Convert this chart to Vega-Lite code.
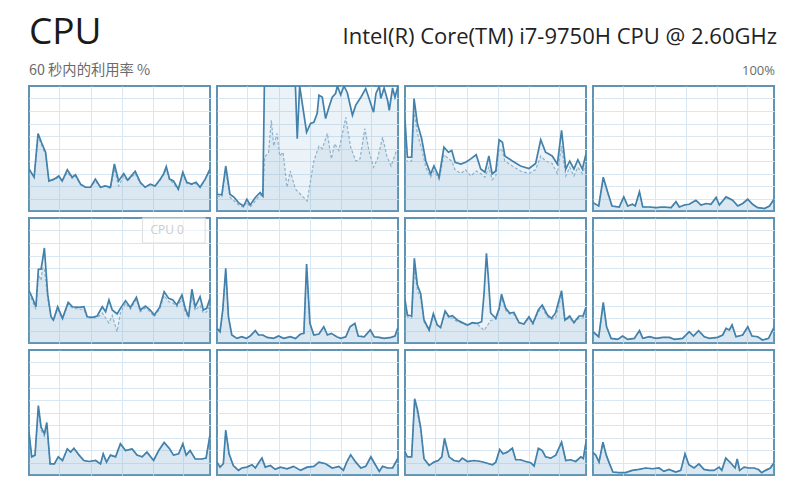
{
  "$schema": "https://vega.github.io/schema/vega-lite/v6.json",
  "background": "white",
  "padding": {"left": 28, "top": 0, "right": 0, "bottom": 0},
  "bounds": "flush",
  "spacing": 7,
  "config": {
    "view": {"stroke": "#6094b3", "strokeWidth": 2},
    "font": "Open Sans",
    "header": {"labels": false, "title": null, "labelExpr": "''", "labelColor": "transparent"},
    "axis": {"grid": true, "gridColor": "#d8e7f1", "gridWidth": 1, "labels": false, "ticks": false, "domain": false, "title": null, "minExtent": 0}
  },
  "datasets": {
    "head": [
      {"id": "cpu", "side": "left", "row": "top", "label": "CPU"},
      {"id": "model", "side": "right", "row": "top", "label": "Intel(R) Core(TM) i7-9750H CPU @ 2.60GHz"},
      {"id": "sub", "side": "left", "row": "bottom", "label": "60 秒内的利用率 %"},
      {"id": "max", "side": "right", "row": "bottom", "label": "100%"}
    ],
    "cpu": [
      {"c":0,"t":0,"u":33.6,"k":33.6},{"c":0,"t":1.7,"u":27,"k":27},{"c":0,"t":3,"u":62,"k":60},{"c":0,"t":4.1,"u":55,"k":53},{"c":0,"t":5.5,"u":47,"k":45},{"c":0,"t":6.6,"u":24,"k":24},{"c":0,"t":8.3,"u":25.5,"k":25},{"c":0,"t":9.9,"u":28,"k":27},{"c":0,"t":11,"u":24,"k":24},{"c":0,"t":12.7,"u":33,"k":31},{"c":0,"t":14.3,"u":27,"k":26},{"c":0,"t":15.4,"u":29,"k":28},{"c":0,"t":17.1,"u":21.5,"k":21},{"c":0,"t":18.7,"u":19,"k":19},{"c":0,"t":20.4,"u":19,"k":19},{"c":0,"t":22,"u":25.5,"k":24},{"c":0,"t":23.7,"u":19,"k":19},{"c":0,"t":25.3,"u":20,"k":20},{"c":0,"t":27,"u":19,"k":18},{"c":0,"t":28.3,"u":37.6,"k":34},{"c":0,"t":29.7,"u":24,"k":20},{"c":0,"t":31.4,"u":30,"k":28},{"c":0,"t":32.7,"u":24.7,"k":24},{"c":0,"t":35.2,"u":31.7,"k":30},{"c":0,"t":36.9,"u":23,"k":22},{"c":0,"t":38.5,"u":19,"k":19},{"c":0,"t":40.2,"u":21.5,"k":21},{"c":0,"t":41.8,"u":20,"k":20},{"c":0,"t":43.3,"u":24.7,"k":24},{"c":0,"t":44.6,"u":29.6,"k":29},{"c":0,"t":45.5,"u":35.5,"k":33},{"c":0,"t":46.6,"u":25.5,"k":25},{"c":0,"t":47.9,"u":24,"k":22},{"c":0,"t":49.5,"u":17.5,"k":17},{"c":0,"t":51,"u":31,"k":29},{"c":0,"t":52.3,"u":23,"k":22},{"c":0,"t":53.9,"u":21.5,"k":21},{"c":0,"t":55.4,"u":23,"k":22},{"c":0,"t":56.7,"u":19,"k":19},{"c":0,"t":58.4,"u":25.5,"k":25},{"c":0,"t":60,"u":33.6,"k":33},

      {"c":1,"t":0,"u":13.4,"k":12},{"c":1,"t":1.6,"u":13,"k":11},{"c":1,"t":2.9,"u":36,"k":33},{"c":1,"t":4.3,"u":13.4,"k":11},{"c":1,"t":5.7,"u":11,"k":8},{"c":1,"t":7.1,"u":6.7,"k":5},{"c":1,"t":8.8,"u":4,"k":3},{"c":1,"t":9.9,"u":9.4,"k":7},{"c":1,"t":11,"u":4.8,"k":3},{"c":1,"t":12.7,"u":10.8,"k":8},{"c":1,"t":14.3,"u":14.8,"k":13},{"c":1,"t":15.2,"u":12,"k":11},
      {"c":1,"t":15.7,"u":100},{"c":1,"t":25.4,"u":100},{"c":1,"t":26,"u":100},{"c":1,"t":26.6,"u":57.8},{"c":1,"t":27.4,"u":100},{"c":1,"t":29.7,"u":63},{"c":1,"t":31,"u":70},{"c":1,"t":32.1,"u":71},{"c":1,"t":33.2,"u":78},{"c":1,"t":33.8,"u":92.7},{"c":1,"t":34.9,"u":91},{"c":1,"t":36,"u":74},{"c":1,"t":37.1,"u":83},{"c":1,"t":38.2,"u":91},{"c":1,"t":39.3,"u":94},{"c":1,"t":39.9,"u":100},{"c":1,"t":41,"u":93},{"c":1,"t":42.1,"u":100},{"c":1,"t":43.2,"u":94.6},{"c":1,"t":44.9,"u":76.6},{"c":1,"t":46,"u":84.7},{"c":1,"t":47.7,"u":91},{"c":1,"t":49.3,"u":98},{"c":1,"t":50.4,"u":90},{"c":1,"t":51.9,"u":79},{"c":1,"t":52.7,"u":94},{"c":1,"t":53.8,"u":100},{"c":1,"t":54.3,"u":90},{"c":1,"t":55.4,"u":98.4},{"c":1,"t":56.6,"u":88},{"c":1,"t":57.1,"u":80.6},{"c":1,"t":58.2,"u":98.4},{"c":1,"t":59,"u":91},{"c":1,"t":60,"u":100},
      {"c":1,"t":15.8,"k":43},{"c":1,"t":17.1,"k":47},{"c":1,"t":18,"k":72.6},{"c":1,"t":18.8,"k":52},{"c":1,"t":19.9,"k":62},{"c":1,"t":20.8,"k":44},{"c":1,"t":21.9,"k":47},{"c":1,"t":23.2,"k":19},{"c":1,"t":24.3,"k":32},{"c":1,"t":26,"k":17.5},{"c":1,"t":27.7,"k":13.4},{"c":1,"t":29.9,"k":8},{"c":1,"t":32.1,"k":40},{"c":1,"t":33.8,"k":52},{"c":1,"t":34.9,"k":50},{"c":1,"t":36.6,"k":62},{"c":1,"t":37.9,"k":41.7},{"c":1,"t":39,"k":53.8},{"c":1,"t":40.4,"k":48.4},{"c":1,"t":42.7,"k":75},{"c":1,"t":44.3,"k":51},{"c":1,"t":46,"k":40},{"c":1,"t":47.4,"k":41.7},{"c":1,"t":49,"k":66},{"c":1,"t":50.4,"k":48},{"c":1,"t":51.9,"k":35},{"c":1,"t":53.2,"k":41.7},{"c":1,"t":54.9,"k":59},{"c":1,"t":56.3,"k":44},{"c":1,"t":57.7,"k":36},{"c":1,"t":59.3,"k":47},{"c":1,"t":60,"k":45},

      {"c":2,"t":0,"u":72.6,"k":40},{"c":2,"t":0.8,"u":43,"k":40},{"c":2,"t":2.2,"u":43,"k":40},{"c":2,"t":3,"u":90,"k":80},{"c":2,"t":4.1,"u":70,"k":62},{"c":2,"t":5.5,"u":58,"k":50},{"c":2,"t":6.9,"u":40,"k":35},{"c":2,"t":8.5,"u":29.6,"k":27},{"c":2,"t":9.6,"u":36,"k":32},{"c":2,"t":11.3,"u":27,"k":25},{"c":2,"t":12.9,"u":51,"k":45},{"c":2,"t":14.4,"u":47,"k":42},{"c":2,"t":15.5,"u":48.4,"k":40},{"c":2,"t":16.6,"u":39,"k":33},{"c":2,"t":18.5,"u":37.6,"k":30},{"c":2,"t":20.1,"u":39,"k":33},{"c":2,"t":21.8,"u":41.7,"k":28},{"c":2,"t":23.6,"u":45,"k":32},{"c":2,"t":25.1,"u":33.6,"k":30},{"c":2,"t":26.5,"u":31,"k":27},{"c":2,"t":27.8,"u":44,"k":35},{"c":2,"t":28.9,"u":29.6,"k":25},{"c":2,"t":30.1,"u":32,"k":28},{"c":2,"t":31.2,"u":57,"k":50},{"c":2,"t":32.3,"u":55,"k":48},{"c":2,"t":33.1,"u":44,"k":40},{"c":2,"t":35.6,"u":40,"k":36},{"c":2,"t":38.3,"u":36,"k":32},{"c":2,"t":41.1,"u":34,"k":30},{"c":2,"t":43.3,"u":38,"k":33},{"c":2,"t":45,"u":57,"k":44},{"c":2,"t":46.6,"u":47,"k":40},{"c":2,"t":48.8,"u":44,"k":38},{"c":2,"t":50.5,"u":37.6,"k":30},{"c":2,"t":51.9,"u":64.5,"k":52},{"c":2,"t":53.3,"u":33.6,"k":28},{"c":2,"t":54.6,"u":40,"k":35},{"c":2,"t":56,"u":33.6,"k":28},{"c":2,"t":57.3,"u":41,"k":35},{"c":2,"t":58.8,"u":33.6,"k":30},{"c":2,"t":60,"u":45.7,"k":38},

      {"c":3,"t":0,"u":6.7,"k":6.7},{"c":3,"t":1.9,"u":4,"k":4},{"c":3,"t":3.4,"u":27,"k":26},{"c":3,"t":4.9,"u":14.8,"k":14},{"c":3,"t":6.3,"u":4,"k":4},{"c":3,"t":8.7,"u":3.2,"k":3.2},{"c":3,"t":10.2,"u":11.3,"k":11},{"c":3,"t":11.5,"u":4,"k":4},{"c":3,"t":13.1,"u":5.4,"k":5.4},{"c":3,"t":14,"u":4,"k":4},{"c":3,"t":15.4,"u":15.3,"k":15},{"c":3,"t":16.5,"u":3.2,"k":3.2},{"c":3,"t":18.7,"u":3.2,"k":3.2},{"c":3,"t":20.9,"u":2.7,"k":2.7},{"c":3,"t":23.1,"u":3.2,"k":3.2},{"c":3,"t":25.9,"u":2.7,"k":2.7},{"c":3,"t":27.5,"u":7.5,"k":7.5},{"c":3,"t":28.6,"u":3.2,"k":3.2},{"c":3,"t":30.3,"u":4.8,"k":4.8},{"c":3,"t":31.9,"u":5.4,"k":5.4},{"c":3,"t":34.1,"u":8.6,"k":8.6},{"c":3,"t":35.8,"u":4.8,"k":4.8},{"c":3,"t":37.5,"u":6,"k":6},{"c":3,"t":39.1,"u":5.4,"k":5.4},{"c":3,"t":40.8,"u":10.8,"k":10.8},{"c":3,"t":41.9,"u":4.8,"k":4.8},{"c":3,"t":44.1,"u":11.3,"k":11.3},{"c":3,"t":46.3,"u":8.6,"k":8.6},{"c":3,"t":48,"u":4,"k":4},{"c":3,"t":49.6,"u":6,"k":6},{"c":3,"t":51.3,"u":9.4,"k":9.4},{"c":3,"t":52.9,"u":5.4,"k":5.4},{"c":3,"t":54.6,"u":2.7,"k":2.7},{"c":3,"t":56.8,"u":2,"k":2},{"c":3,"t":58.5,"u":4,"k":4},{"c":3,"t":60,"u":9.4,"k":9.4},

      {"c":4,"t":0,"u":42,"k":40},{"c":4,"t":1.2,"u":35.7,"k":33},{"c":4,"t":2.3,"u":29,"k":27},{"c":4,"t":3.1,"u":59,"k":55},{"c":4,"t":4,"u":59,"k":50},{"c":4,"t":4.5,"u":66.4,"k":60},{"c":4,"t":5.1,"u":76,"k":60},{"c":4,"t":6.2,"u":39,"k":36},{"c":4,"t":7.3,"u":21,"k":20},{"c":4,"t":8.1,"u":18.4,"k":18},{"c":4,"t":9.5,"u":29,"k":27},{"c":4,"t":11.1,"u":19.7,"k":19},{"c":4,"t":13,"u":32.5,"k":31},{"c":4,"t":14.4,"u":29,"k":28},{"c":4,"t":16.6,"u":28.5,"k":27},{"c":4,"t":18.2,"u":29,"k":27},{"c":4,"t":19.3,"u":21,"k":20},{"c":4,"t":21,"u":20.5,"k":20},{"c":4,"t":22.6,"u":21.6,"k":20},{"c":4,"t":24.3,"u":29,"k":24},{"c":4,"t":25.4,"u":25,"k":20},{"c":4,"t":26.5,"u":34.4,"k":16},{"c":4,"t":27.6,"u":26.4,"k":22},{"c":4,"t":29.2,"u":23.2,"k":9},{"c":4,"t":30.3,"u":27.7,"k":24},{"c":4,"t":32,"u":33.9,"k":32},{"c":4,"t":33.6,"u":28.5,"k":27},{"c":4,"t":35.6,"u":36.5,"k":35},{"c":4,"t":36.9,"u":26.4,"k":25},{"c":4,"t":38.6,"u":29.6,"k":28},{"c":4,"t":40.2,"u":26.4,"k":25},{"c":4,"t":41.5,"u":22.4,"k":21},{"c":4,"t":43.3,"u":28.5,"k":27},{"c":4,"t":44.8,"u":41,"k":38},{"c":4,"t":46.3,"u":35.7,"k":33},{"c":4,"t":47.7,"u":34.4,"k":32},{"c":4,"t":49,"u":30.4,"k":29},{"c":4,"t":50.7,"u":38.4,"k":35},{"c":4,"t":51.8,"u":27.7,"k":25},{"c":4,"t":52.9,"u":21,"k":20},{"c":4,"t":54,"u":43,"k":38},{"c":4,"t":55.1,"u":29,"k":26},{"c":4,"t":56.7,"u":37,"k":30},{"c":4,"t":57.8,"u":26.4,"k":24},{"c":4,"t":58.9,"u":27.7,"k":25},{"c":4,"t":60,"u":35.7,"k":30},
      {"c":4,"tip":"CPU 0","t":37.6,"v":80,"t1":58.4,"v1":100},

      {"c":5,"t":0,"u":11.7,"k":11.7},{"c":5,"t":1,"u":9,"k":9},{"c":5,"t":1.9,"u":26.4,"k":25},{"c":5,"t":2.9,"u":59.7,"k":57},{"c":5,"t":3.8,"u":21,"k":20},{"c":5,"t":4.9,"u":6.4,"k":6.4},{"c":5,"t":6.6,"u":3.7,"k":3.7},{"c":5,"t":8.2,"u":5,"k":5},{"c":5,"t":9.7,"u":3.7,"k":3.7},{"c":5,"t":11,"u":5.6,"k":5.6},{"c":5,"t":12.7,"u":9.9,"k":9.9},{"c":5,"t":13.8,"u":6.4,"k":6.4},{"c":5,"t":15.2,"u":6.4,"k":6.4},{"c":5,"t":16.6,"u":4.5,"k":4.5},{"c":5,"t":18.8,"u":3.7,"k":3.7},{"c":5,"t":20.4,"u":5.6,"k":5.6},{"c":5,"t":22.1,"u":3.7,"k":3.7},{"c":5,"t":24.3,"u":5,"k":5},{"c":5,"t":26,"u":3.5,"k":3.5},{"c":5,"t":27.7,"u":7.2,"k":7.2},{"c":5,"t":28.8,"u":7.7,"k":7.7},{"c":5,"t":29.7,"u":63.2,"k":60},{"c":5,"t":30.8,"u":15.7,"k":15},{"c":5,"t":32.1,"u":6.4,"k":6.4},{"c":5,"t":33.8,"u":7.2,"k":7.2},{"c":5,"t":35.4,"u":13,"k":13},{"c":5,"t":36.6,"u":6.4,"k":6.4},{"c":5,"t":37.9,"u":7.7,"k":7.7},{"c":5,"t":39.7,"u":5,"k":5},{"c":5,"t":41,"u":3.7,"k":3.7},{"c":5,"t":42.7,"u":5,"k":5},{"c":5,"t":44.1,"u":13,"k":13},{"c":5,"t":45.7,"u":15.7,"k":15.7},{"c":5,"t":46.8,"u":5.6,"k":5.6},{"c":5,"t":48.8,"u":5,"k":5},{"c":5,"t":50.8,"u":10.4,"k":10.4},{"c":5,"t":52.1,"u":5,"k":5},{"c":5,"t":53.8,"u":4.5,"k":4.5},{"c":5,"t":55.4,"u":3.7,"k":3.7},{"c":5,"t":57.7,"u":4.5,"k":4.5},{"c":5,"t":59,"u":5.6,"k":5.6},{"c":5,"t":60,"u":12.5,"k":12.5},

      {"c":6,"t":0,"u":34.4,"k":30},{"c":6,"t":0.8,"u":22.4,"k":21},{"c":6,"t":2.2,"u":21.6,"k":20},{"c":6,"t":3.1,"u":67.7,"k":60},{"c":6,"t":4.1,"u":46.4,"k":42},{"c":6,"t":5.2,"u":39.5,"k":36},{"c":6,"t":6.3,"u":18.4,"k":17},{"c":6,"t":8,"u":10.4,"k":10},{"c":6,"t":9.4,"u":23.5,"k":22},{"c":6,"t":10.7,"u":14.4,"k":14},{"c":6,"t":11.8,"u":12.5,"k":12},{"c":6,"t":13.3,"u":25.6,"k":24},{"c":6,"t":14.6,"u":21,"k":20},{"c":6,"t":15.7,"u":21.9,"k":20},{"c":6,"t":17.3,"u":18.4,"k":17},{"c":6,"t":19,"u":16.3,"k":16},{"c":6,"t":20.7,"u":14.4,"k":14},{"c":6,"t":22.3,"u":16.3,"k":16},{"c":6,"t":24,"u":15.7,"k":15},{"c":6,"t":25.4,"u":17,"k":12},{"c":6,"t":26.2,"u":39.5,"k":10},{"c":6,"t":27,"u":71.7,"k":13},{"c":6,"t":27.6,"u":53,"k":15},{"c":6,"t":28.4,"u":24,"k":18},{"c":6,"t":30.1,"u":19.7,"k":19},{"c":6,"t":31.2,"u":27.7,"k":26},{"c":6,"t":32,"u":39,"k":36},{"c":6,"t":33.4,"u":27.7,"k":26},{"c":6,"t":34.7,"u":24,"k":23},{"c":6,"t":36.1,"u":24.5,"k":23},{"c":6,"t":37.8,"u":16.3,"k":16},{"c":6,"t":39.4,"u":15.2,"k":15},{"c":6,"t":41.1,"u":21,"k":20},{"c":6,"t":42.4,"u":15.7,"k":15},{"c":6,"t":44.2,"u":26.4,"k":25},{"c":6,"t":45.5,"u":30.4,"k":28},{"c":6,"t":47.2,"u":22.4,"k":21},{"c":6,"t":48.6,"u":19.7,"k":19},{"c":6,"t":49.9,"u":24,"k":20},{"c":6,"t":51.9,"u":41.9,"k":38},{"c":6,"t":53,"u":18.4,"k":18},{"c":6,"t":54.6,"u":21.6,"k":20},{"c":6,"t":56,"u":16.3,"k":16},{"c":6,"t":57.7,"u":21.6,"k":20},{"c":6,"t":59,"u":21.6,"k":20},{"c":6,"t":60,"u":28.5,"k":27},

      {"c":7,"t":0,"u":9,"k":9},{"c":7,"t":1.9,"u":5,"k":5},{"c":7,"t":3.4,"u":32.5,"k":31},{"c":7,"t":4.5,"u":13,"k":13},{"c":7,"t":6,"u":3.7,"k":3.7},{"c":7,"t":8.2,"u":2.9,"k":2.9},{"c":7,"t":9.8,"u":5.6,"k":5.6},{"c":7,"t":11.5,"u":2.9,"k":2.9},{"c":7,"t":13.7,"u":3.7,"k":3.7},{"c":7,"t":15.4,"u":9.9,"k":9.9},{"c":7,"t":16.5,"u":3.7,"k":3.7},{"c":7,"t":18.7,"u":5,"k":5},{"c":7,"t":20.9,"u":3.7,"k":3.7},{"c":7,"t":23.1,"u":4.5,"k":4.5},{"c":7,"t":25.3,"u":4.5,"k":4.5},{"c":7,"t":27,"u":2.9,"k":2.9},{"c":7,"t":29.7,"u":3.7,"k":3.7},{"c":7,"t":31.9,"u":9,"k":9},{"c":7,"t":33.3,"u":5.6,"k":5.6},{"c":7,"t":35,"u":9.9,"k":9.9},{"c":7,"t":36.9,"u":5,"k":5},{"c":7,"t":38.6,"u":3.7,"k":3.7},{"c":7,"t":41.3,"u":4.5,"k":4.5},{"c":7,"t":43,"u":6.4,"k":6.4},{"c":7,"t":44.1,"u":11.7,"k":11.7},{"c":7,"t":45.2,"u":10.4,"k":10.4},{"c":7,"t":46.1,"u":14.4,"k":14.4},{"c":7,"t":47.4,"u":5,"k":5},{"c":7,"t":49.6,"u":6.4,"k":6.4},{"c":7,"t":51.3,"u":13,"k":13},{"c":7,"t":52.7,"u":5.6,"k":5.6},{"c":7,"t":54.6,"u":5,"k":5},{"c":7,"t":56.2,"u":2.4,"k":2.4},{"c":7,"t":58.2,"u":3.7,"k":3.7},{"c":7,"t":60,"u":12.5,"k":12.5},

      {"c":8,"t":0,"u":34.4,"k":33},{"c":8,"t":0.9,"u":14.5,"k":14.5},{"c":8,"t":2,"u":15.9,"k":15.9},{"c":8,"t":3.1,"u":55.6,"k":53},{"c":8,"t":4,"u":38.4,"k":36},{"c":8,"t":5.1,"u":33,"k":31},{"c":8,"t":5.9,"u":42,"k":40},{"c":8,"t":7,"u":8.9,"k":8.9},{"c":8,"t":8.4,"u":8.9,"k":8.9},{"c":8,"t":9.7,"u":14.5,"k":14.5},{"c":8,"t":11.1,"u":11.6,"k":11.6},{"c":8,"t":12.7,"u":20.9,"k":20.9},{"c":8,"t":13.8,"u":18.3,"k":18.3},{"c":8,"t":14.9,"u":21.4,"k":21.4},{"c":8,"t":16.6,"u":15.9,"k":15.9},{"c":8,"t":18.2,"u":11.6,"k":11.6},{"c":8,"t":19.9,"u":10.8,"k":10.8},{"c":8,"t":22.1,"u":11.6,"k":11.6},{"c":8,"t":23.7,"u":8.9,"k":8.9},{"c":8,"t":24.6,"u":16.9,"k":16.9},{"c":8,"t":25.7,"u":10.3,"k":10.3},{"c":8,"t":27,"u":15.9,"k":15.9},{"c":8,"t":28.7,"u":14.5,"k":14.5},{"c":8,"t":30.3,"u":25,"k":25},{"c":8,"t":32,"u":19.6,"k":19.6},{"c":8,"t":34.2,"u":20.9,"k":20.9},{"c":8,"t":35.8,"u":15.9,"k":15.9},{"c":8,"t":37.5,"u":14.5,"k":14.5},{"c":8,"t":39.1,"u":18.3,"k":18.3},{"c":8,"t":41.3,"u":11.6,"k":11.6},{"c":8,"t":43,"u":19.6,"k":19.6},{"c":8,"t":44.8,"u":26,"k":26},{"c":8,"t":46.6,"u":21,"k":21},{"c":8,"t":47.9,"u":15.9,"k":15.9},{"c":8,"t":49.6,"u":17,"k":17},{"c":8,"t":51,"u":25,"k":25},{"c":8,"t":52.1,"u":15.9,"k":15.9},{"c":8,"t":53.4,"u":19.6,"k":19.6},{"c":8,"t":55.1,"u":12.8,"k":12.8},{"c":8,"t":57.3,"u":12.8,"k":12.8},{"c":8,"t":58.7,"u":13.5,"k":13.5},{"c":8,"t":60,"u":32,"k":32},

      {"c":9,"t":0,"u":10.3,"k":10.3},{"c":9,"t":1,"u":6.3,"k":6.3},{"c":9,"t":2.1,"u":9,"k":9},{"c":9,"t":2.9,"u":36,"k":35},{"c":9,"t":4,"u":17,"k":17},{"c":9,"t":5.4,"u":7.6,"k":7.6},{"c":9,"t":7.1,"u":3.7,"k":3.7},{"c":9,"t":8.2,"u":5.6,"k":5.6},{"c":9,"t":9.9,"u":6.3,"k":6.3},{"c":9,"t":11.6,"u":8.2,"k":8.2},{"c":9,"t":12.7,"u":5.6,"k":5.6},{"c":9,"t":14.1,"u":10.8,"k":10.8},{"c":9,"t":14.9,"u":13.5,"k":13.5},{"c":9,"t":16,"u":6.3,"k":6.3},{"c":9,"t":17.7,"u":7.6,"k":7.6},{"c":9,"t":19.3,"u":4.5,"k":4.5},{"c":9,"t":21,"u":6.3,"k":6.3},{"c":9,"t":23.2,"u":5,"k":5},{"c":9,"t":25.4,"u":6.9,"k":6.9},{"c":9,"t":27.7,"u":3.7,"k":3.7},{"c":9,"t":29.9,"u":6.3,"k":6.3},{"c":9,"t":32.1,"u":6.9,"k":6.9},{"c":9,"t":33.8,"u":10.3,"k":10.3},{"c":9,"t":36,"u":9,"k":9},{"c":9,"t":38.2,"u":5.6,"k":5.6},{"c":9,"t":40.4,"u":6.9,"k":6.9},{"c":9,"t":41.9,"u":3.7,"k":3.7},{"c":9,"t":43,"u":10.3,"k":10.3},{"c":9,"t":44.3,"u":16.1,"k":16.1},{"c":9,"t":46,"u":10.3,"k":10.3},{"c":9,"t":47.7,"u":5.6,"k":5.6},{"c":9,"t":49.3,"u":6.9,"k":6.9},{"c":9,"t":51,"u":14.5,"k":14.5},{"c":9,"t":52.3,"u":9,"k":9},{"c":9,"t":53.8,"u":2.9,"k":2.9},{"c":9,"t":54.9,"u":6.9,"k":6.9},{"c":9,"t":56.6,"u":5.6,"k":5.6},{"c":9,"t":58.2,"u":5.6,"k":5.6},{"c":9,"t":60,"u":13.5,"k":13.5},

      {"c":10,"t":0,"u":18.5,"k":18.5},{"c":10,"t":0.8,"u":14.5,"k":14.5},{"c":10,"t":2.2,"u":14.5,"k":14.5},{"c":10,"t":3.2,"u":61,"k":59},{"c":10,"t":4.1,"u":52.6,"k":50},{"c":10,"t":5.2,"u":38,"k":36},{"c":10,"t":6.3,"u":13,"k":13},{"c":10,"t":8,"u":7.7,"k":7.7},{"c":10,"t":9.6,"u":10.3,"k":10.3},{"c":10,"t":11,"u":11.6,"k":11.6},{"c":10,"t":12.2,"u":14.5,"k":14.5},{"c":10,"t":13.1,"u":29.4,"k":28},{"c":10,"t":14.6,"u":14.5,"k":14.5},{"c":10,"t":16.2,"u":11.6,"k":11.6},{"c":10,"t":17.9,"u":10.8,"k":10.8},{"c":10,"t":19,"u":13.5,"k":13.5},{"c":10,"t":20.7,"u":10.8,"k":10.8},{"c":10,"t":22.9,"u":11.6,"k":11.6},{"c":10,"t":25.1,"u":10.8,"k":10.8},{"c":10,"t":26.7,"u":9.8,"k":9.8},{"c":10,"t":29,"u":8.2,"k":8.2},{"c":10,"t":30.1,"u":10.3,"k":10.3},{"c":10,"t":31.4,"u":20.4,"k":20.4},{"c":10,"t":32.5,"u":17,"k":17},{"c":10,"t":33.9,"u":18.3,"k":18.3},{"c":10,"t":35.6,"u":21.4,"k":21.4},{"c":10,"t":36.7,"u":12.2,"k":12.2},{"c":10,"t":38.3,"u":12.2,"k":12.2},{"c":10,"t":40,"u":10.8,"k":10.8},{"c":10,"t":41.7,"u":9.8,"k":9.8},{"c":10,"t":42.8,"u":7.1,"k":7.1},{"c":10,"t":44.2,"u":21.4,"k":21.4},{"c":10,"t":45.5,"u":19.6,"k":19.6},{"c":10,"t":46.6,"u":14.5,"k":14.5},{"c":10,"t":48.3,"u":13.5,"k":13.5},{"c":10,"t":50,"u":15.9,"k":15.9},{"c":10,"t":51.9,"u":26.2,"k":26.2},{"c":10,"t":53.3,"u":11.6,"k":11.6},{"c":10,"t":54.9,"u":12.2,"k":12.2},{"c":10,"t":56.6,"u":10.8,"k":10.8},{"c":10,"t":58.3,"u":14.5,"k":14.5},{"c":10,"t":59.1,"u":13.2,"k":13.2},{"c":10,"t":60,"u":26.2,"k":26.2},

      {"c":11,"t":0,"u":18,"k":18},{"c":11,"t":0.9,"u":15.9,"k":15.9},{"c":11,"t":2,"u":10.3,"k":10.3},{"c":11,"t":3.3,"u":26.2,"k":26.2},{"c":11,"t":4.4,"u":15.9,"k":15.9},{"c":11,"t":5.5,"u":8.9,"k":8.9},{"c":11,"t":6.6,"u":2.4,"k":2.4},{"c":11,"t":8.6,"u":1.9,"k":1.9},{"c":11,"t":10.8,"u":1.9,"k":1.9},{"c":11,"t":13,"u":3.7,"k":3.7},{"c":11,"t":15.2,"u":4.5,"k":4.5},{"c":11,"t":17.5,"u":5.6,"k":5.6},{"c":11,"t":19.7,"u":5,"k":5},{"c":11,"t":21.9,"u":5.6,"k":5.6},{"c":11,"t":23.5,"u":2.9,"k":2.9},{"c":11,"t":25.2,"u":4.5,"k":4.5},{"c":11,"t":27.4,"u":2.4,"k":2.4},{"c":11,"t":29.1,"u":3.7,"k":3.7},{"c":11,"t":30.5,"u":16.9,"k":16.9},{"c":11,"t":31.8,"u":8.2,"k":8.2},{"c":11,"t":33.5,"u":5.6,"k":5.6},{"c":11,"t":35.1,"u":8.9,"k":8.9},{"c":11,"t":36.8,"u":4.5,"k":4.5},{"c":11,"t":38.5,"u":3.7,"k":3.7},{"c":11,"t":40.1,"u":3.7,"k":3.7},{"c":11,"t":41.8,"u":6.3,"k":6.3},{"c":11,"t":42.7,"u":3.7,"k":3.7},{"c":11,"t":44,"u":13.5,"k":13.5},{"c":11,"t":45.6,"u":9.8,"k":9.8},{"c":11,"t":47.1,"u":5.6,"k":5.6},{"c":11,"t":47.8,"u":12.8,"k":12.8},{"c":11,"t":48.6,"u":3.7,"k":3.7},{"c":11,"t":50.1,"u":6.3,"k":6.3},{"c":11,"t":51.7,"u":5.6,"k":5.6},{"c":11,"t":53.4,"u":5.6,"k":5.6},{"c":11,"t":54.8,"u":4.5,"k":4.5},{"c":11,"t":55.9,"u":1.9,"k":1.9},{"c":11,"t":57.2,"u":3.7,"k":3.7},{"c":11,"t":58.8,"u":5.6,"k":5.6},{"c":11,"t":60,"u":9.8,"k":9.8}
    ]
  },
  "vconcat": [
    {
      "data": {"name": "head"},
      "width": 745,
      "height": 79,
      "view": {"stroke": null},
      "encoding": {
        "x": {"field": "side", "type": "nominal", "scale": {"type": "point", "domain": ["left", "right"], "padding": 0}, "axis": null},
        "y": {"field": "row", "type": "nominal", "scale": {"type": "point", "domain": ["top", "bottom"], "padding": 0}, "axis": null},
        "text": {"field": "label"}
      },
      "layer": [
        {"transform": [{"filter": "datum.id === 'cpu'"}], "mark": {"type": "text", "align": "left", "baseline": "alphabetic", "dy": 44, "dx": 0, "fontSize": 37, "font": "Open Sans", "color": "#1a1a1a"}},
        {"transform": [{"filter": "datum.id === 'model'"}], "mark": {"type": "text", "align": "right", "baseline": "alphabetic", "dy": 44, "dx": 3, "fontSize": 22, "font": "Open Sans", "color": "#222222"}},
        {"transform": [{"filter": "datum.id === 'sub'"}], "mark": {"type": "text", "align": "left", "baseline": "alphabetic", "dy": -4, "fontSize": 14.3, "font": "Noto Sans CJK SC", "color": "#6b6b6b"}},
        {"transform": [{"filter": "datum.id === 'max'"}], "mark": {"type": "text", "align": "right", "baseline": "alphabetic", "dy": -4, "dx": 1, "fontSize": 13, "font": "Open Sans", "color": "#6b6b6b"}}
      ]
    },
    {
      "data": {"name": "cpu"},
      "facet": {"field": "c", "type": "ordinal", "title": null, "header": {"title": null, "labels": false}},
      "columns": 4,
      "spacing": 7,
      "bounds": "flush",
      "spec": {
        "width": 181,
        "height": 125,
        "encoding": {
          "x": {"field": "t", "type": "quantitative", "scale": {"domain": [0, 60], "nice": false, "zero": false},
                "axis": {"values": [10.1, 20.4, 30.7, 41.1, 51.2], "grid": true, "gridColor": "#d8e7f1", "labels": false, "ticks": false, "domain": false, "title": null}},
          "y": {"field": "v", "type": "quantitative", "scale": {"domain": [0, 100], "nice": false},
                "axis": {"values": [10, 20, 30, 40, 50, 60, 70, 80, 90], "grid": true, "gridColor": "#d8e7f1", "labels": false, "ticks": false, "domain": false, "title": null}}
        },
        "layer": [
          {
            "transform": [{"fold": ["u", "k"], "as": ["s", "v"]}, {"filter": "datum.s === 'u' && isValid(datum.v)"}],
            "mark": {"type": "area", "color": "#7fb0d3", "opacity": 0.15, "clip": true}
          },
          {
            "transform": [{"fold": ["u", "k"], "as": ["s", "v"]}, {"filter": "datum.s === 'k' && isValid(datum.v)"}],
            "mark": {"type": "area", "color": "#7fb0d3", "opacity": 0.15, "clip": true}
          },
          {
            "transform": [{"fold": ["u", "k"], "as": ["s", "v"]}, {"filter": "datum.s === 'k' && isValid(datum.v)"}],
            "mark": {"type": "line", "color": "#8eb1ca", "strokeWidth": 1.2, "strokeDash": [3, 2], "clip": true}
          },
          {
            "transform": [{"fold": ["u", "k"], "as": ["s", "v"]}, {"filter": "datum.s === 'u' && isValid(datum.v)"}],
            "mark": {"type": "line", "color": "#4281ab", "strokeWidth": 1.7, "clip": true}
          },
          {
            "transform": [{"filter": "isValid(datum.tip)"}],
            "mark": {"type": "rect", "fill": "#ffffff", "fillOpacity": 0.55, "stroke": "#dedede", "strokeWidth": 1},
            "encoding": {"x2": {"field": "t1"}, "y2": {"field": "v1"}}
          },
          {
            "transform": [{"filter": "isValid(datum.tip)"}],
            "mark": {"type": "text", "color": "#cccccc", "fontSize": 12, "font": "Open Sans", "baseline": "middle", "align": "left", "dx": 8, "dy": -13},
            "encoding": {"text": {"field": "tip"}}
          }
        ]
      }
    }
  ]
}
